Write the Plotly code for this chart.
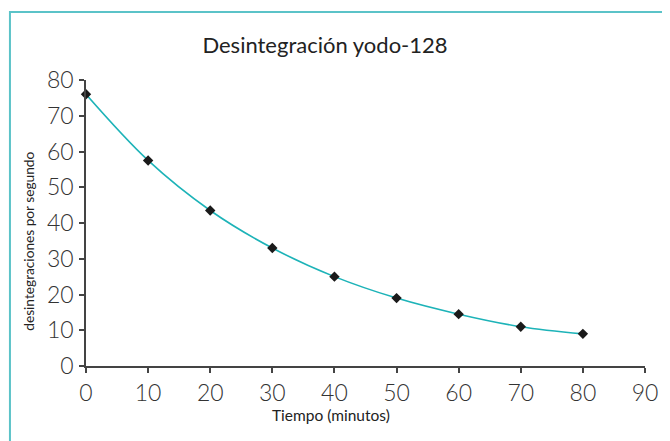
import plotly.graph_objects as go

tiempo = [0, 10, 20, 30, 40, 50, 60, 70, 80]
desintegraciones = [76, 57.5, 43.5, 33, 25, 19, 14.5, 11, 9]
x_ticks = [0, 10, 20, 30, 40, 50, 60, 70, 80, 90]
y_ticks = [0, 10, 20, 30, 40, 50, 60, 70, 80]

OFF = 8  # page body margin
W, H = 670 - OFF, 441 - OFF
L, R, T, B = 86 - OFF, 18, 80 - OFF, 75
pw, ph = W - L - R, H - T - B

def px(x):
    return (x - OFF - L) / pw

def py(y):
    return (H - B - (y - OFF)) / ph

fig = go.Figure()
fig.add_trace(go.Scatter(
    x=tiempo, y=desintegraciones, mode="lines",
    line=dict(color="#1db3b8", width=1.6, shape="spline", smoothing=1.0),
    hoverinfo="skip", showlegend=False, cliponaxis=False))
fig.add_trace(go.Scatter(
    x=tiempo, y=desintegraciones, mode="markers",
    marker=dict(symbol="diamond", size=8, color="#1a1a1a"),
    showlegend=False, cliponaxis=False))

font_fam = "Lato, 'Open Sans', sans-serif"
axis_common = dict(showline=True, linecolor="#444", linewidth=1.5, ticks="outside",
                   ticklen=5, tickcolor="#444", tickwidth=1.5, showgrid=False,
                   zeroline=False, tickfont=dict(family=font_fam, size=23, color="#333", weight=300))

fig.update_layout(
    width=W, height=H,
    margin=dict(l=L, r=R, t=T, b=B),
    paper_bgcolor="white", plot_bgcolor="white",
    title=dict(text="Desintegración yodo-128", x=(325 - OFF) / W, xanchor="center",
               y=1 - (45 - OFF) / H, yanchor="middle", xref="container", yref="container",
               font=dict(family=font_fam, size=22, color="#222")),
    xaxis=dict(range=[0, 90], tickvals=x_ticks, ticklabelstandoff=1, **axis_common),
    yaxis=dict(range=[0, 80], tickvals=y_ticks, ticklabelstandoff=1, **axis_common),
    shapes=[dict(type="rect", xref="paper", yref="paper",
                 x0=px(9), x1=px(700), y0=py(470), y1=py(12),
                 line=dict(color="#5bc3c8", width=2), fillcolor="rgba(0,0,0,0)", layer="below")],
    annotations=[
        dict(text="desintegraciones por segundo", xref="paper", yref="paper",
             x=px(27), y=py(241), textangle=-90, showarrow=False,
             xanchor="center", yanchor="middle",
             font=dict(family=font_fam, size=13.7, color="#222")),
        dict(text="Tiempo (minutos)", xref="paper", yref="paper",
             x=px(334), y=py(415), showarrow=False,
             xanchor="center", yanchor="middle",
             font=dict(family=font_fam, size=15.5, color="#222")),
    ],
)

fig.write_html("out.html")
